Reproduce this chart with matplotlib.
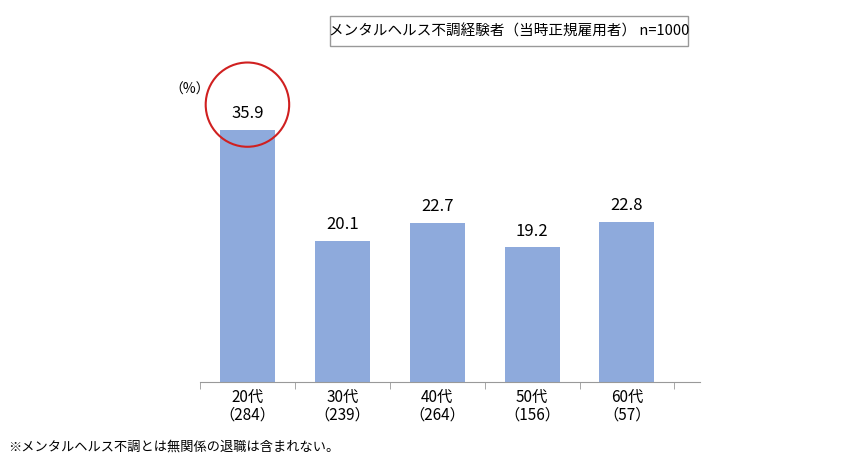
import matplotlib.pyplot as plt
from matplotlib.patches import Ellipse, Rectangle

ages = ['20代', '30代', '40代', '50代', '60代']
counts = [284, 239, 264, 156, 57]
values = [35.9, 20.1, 22.7, 19.2, 22.8]

plt.rcParams['font.family'] = 'Noto Sans CJK JP'

fig = plt.figure(figsize=(8.65, 4.6), dpi=100)
ax = fig.add_axes([200/865, 77/460, 500/865, 323/460])
x = list(range(len(values)))
ax.bar(x, values, width=0.58, color='#8eaadc')
for xi, v in zip(x, values):
    ax.text(xi, v + 1.2, f'{v:.1f}', ha='center', va='bottom', fontsize=12)
ax.set_xlim(-0.48, 4.77)
ax.set_ylim(0, 46)
ax.set_xticks(x)
ax.set_xticklabels([f'{a}\n（{c}）' for a, c in zip(ages, counts)], fontsize=11, linespacing=1.1)
ax.set_xticks([i + 0.5 for i in range(-1, 5)], minor=True)
ax.tick_params(axis='x', which='major', length=0, pad=4)
ax.tick_params(axis='x', which='minor', length=5, color='#999999')
ax.set_yticks([])
for s in ['top', 'right', 'left']:
    ax.spines[s].set_visible(False)
ax.spines['bottom'].set_color('#999999')

# red circle around the highest value
ax.add_patch(Ellipse((0, 39.5), 0.88, 12.0, fill=False, edgecolor='#d02020', lw=1.5, clip_on=False))

fig.text(190/865, 1 - 90/460, '（%）', fontsize=10, ha='center', va='center')
fig.patches.append(Rectangle((330/865, 1 - 47/460), 358/865, 30/460, transform=fig.transFigure,
                             fill=False, edgecolor='#999999', lw=1))
fig.text(509/865, 1 - 32/460, 'メンタルヘルス不調経験者（当時正規雇用者） n=1000', fontsize=10.5,
         ha='center', va='center')
fig.text(8/865, 1 - 447/460, '※メンタルヘルス不調とは無関係の退職は含まれない。', fontsize=9.5,
         ha='left', va='center')

fig.savefig('out.png', dpi=100)
